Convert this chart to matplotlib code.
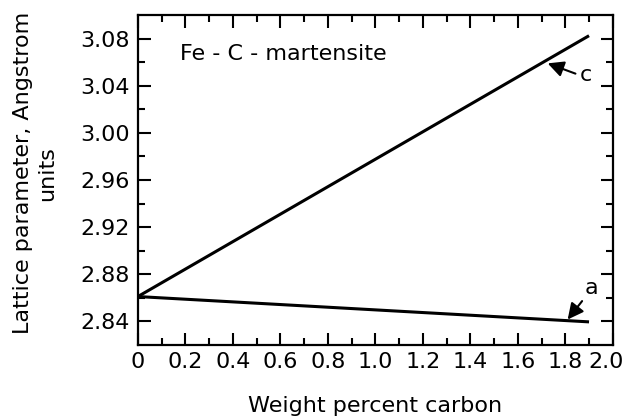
import matplotlib
matplotlib.use("Agg")
from matplotlib import pyplot as plt
import matplotlib.transforms as mtransforms
import numpy as np

# weight percent carbon at the line ends, and the lattice parameters
carbon = [0.0, 1.9]
c_param = [2.861, 3.0825]
a_param = [2.861, 2.8395]

xticks = [0.0, 0.2, 0.4, 0.6, 0.8, 1.0, 1.2, 1.4, 1.6, 1.8, 2.0]
xtick_labels = ['0', '0.2', '0.4', '0.6', '0.8', '1.0', '1.2', '1.4', '1.6', '1.8', '2.0']
yticks = [2.84, 2.88, 2.92, 2.96, 3.00, 3.04, 3.08]
ytick_labels = ['2.84', '2.88', '2.92', '2.96', '3.00', '3.04', '3.08']

plt.rcParams.update({
    "font.family": "DejaVu Sans",
    "font.size": 16,
})

fig = plt.figure(figsize=(6.24, 4.19), dpi=100)
ax = fig.add_axes([0.221, 0.177, 0.761, 0.787])

ax.plot(carbon, c_param, 'k', linewidth=2.2, solid_capstyle='butt')
ax.plot(carbon, a_param, 'k', linewidth=2.2, solid_capstyle='butt')

ax.set_xlim(0, 2.0)
ax.set_ylim(2.82, 3.10)

ax.set_xticks(xticks)
ax.set_xticklabels(xtick_labels, fontsize=16)
ax.set_xticks(np.arange(0.1, 2.0, 0.2), minor=True)
ax.set_yticks(yticks)
ax.set_yticklabels(ytick_labels, fontsize=16)
ax.set_yticks([2.86, 2.90, 2.94, 2.98, 3.02, 3.06], minor=True)

ax.tick_params(which='both', direction='in', top=True, right=True, width=1.5)
ax.tick_params(which='major', length=9)
ax.tick_params(which='minor', length=5)
ax.tick_params(axis='y', which='major', pad=6)
ax.tick_params(axis='x', which='major', pad=5)
for s in ax.spines.values():
    s.set_linewidth(1.6)

# the last x label sits a little to the left, as in the figure
shift = mtransforms.ScaledTranslation(-7 / 100, 0, fig.dpi_scale_trans)
last = ax.get_xticklabels()[-1]
last.set_transform(last.get_transform() + shift)

ax.set_xlabel('Weight percent carbon', fontsize=16)
ax.xaxis.set_label_coords(0.5, -0.155)
ax.set_ylabel('Lattice parameter, Angstrom\nunits', fontsize=16, linespacing=1.25)
ax.yaxis.set_label_coords(-0.17, 0.52)

ax.text(0.177, 3.067, 'Fe - C - martensite', fontsize=16, va='center', ha='left')

arrow_c = dict(arrowstyle='-|>,head_length=0.6,head_width=0.3', color='k', lw=1.5,
               shrinkA=1, shrinkB=0, relpos=(0.0, 0.5))
arrow_a = dict(arrowstyle='-|>,head_length=0.6,head_width=0.3', color='k', lw=1.5,
               shrinkA=0, shrinkB=0, relpos=(0.0, 0.0))
ax.annotate('c', xy=(1.726, 3.059), xytext=(1.86, 3.049), fontsize=16,
            va='center', ha='left', arrowprops=arrow_c)
ax.annotate('a', xy=(1.81, 2.8415), xytext=(1.88, 2.868), fontsize=16,
            va='center', ha='left', arrowprops=arrow_a)

fig.savefig('out.png', dpi=100)
